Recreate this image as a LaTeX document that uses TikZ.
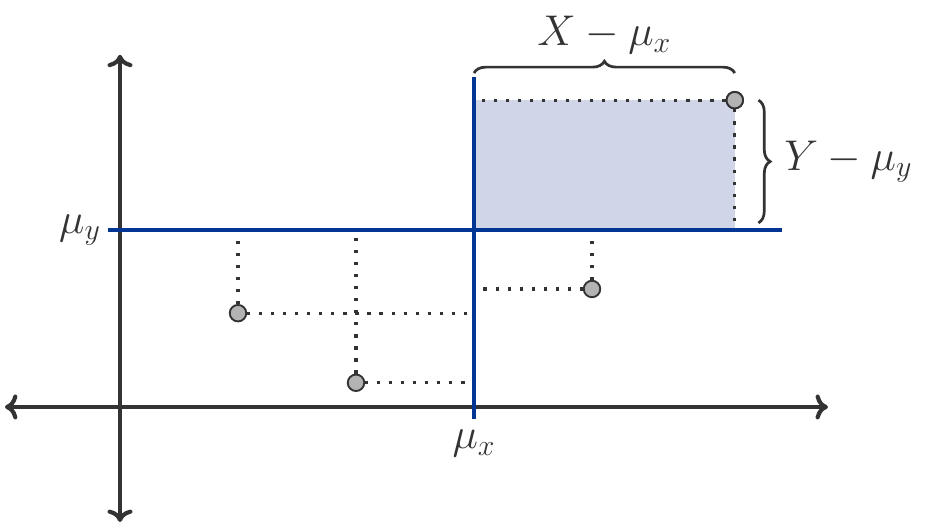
\documentclass[tikz,border=0pt]{standalone}
\usetikzlibrary{arrows.meta,decorations.pathreplacing}
\usepackage{amsmath}
\usepackage{xcolor}

\definecolor{axisgray}{HTML}{333333}
\definecolor{meanblue}{HTML}{003594}
\definecolor{areafill}{HTML}{D0D5E8}
\definecolor{pointgray}{HTML}{B3B3B3}

\begin{document}
\begin{tikzpicture}[
    axis/.style={{To[length=6pt,width=12pt]}-{To[length=6pt,width=12pt]},line width=2pt,draw=axisgray},
    meanline/.style={line width=2.2pt,draw=meanblue},
    proj/.style={draw=axisgray,line width=1.5pt,dash pattern=on 1.5pt off 4.3pt},
    datapoint/.style={circle,draw=axisgray,fill=pointgray,line width=0.9pt,minimum size=0.28cm,inner sep=0pt},
    bracket/.style={draw=axisgray,line width=1.3pt,decorate,decoration={brace,amplitude=0.2cm}},
    lbl/.style={font=\fontsize{20}{24}\selectfont,text=axisgray}
]
\useasboundingbox (-2.034,-2.051) rectangle (13.678,6.898);

% Means
\coordinate (M) at (6,3);

% Shaded area
\fill[areafill] (6,3) rectangle (10.42,5.2);

% Axes
\coordinate (xl) at (-1.95,0);
\coordinate (xr) at (12,0);
\coordinate (yb) at (0,-1.95);
\coordinate (yt) at (0,5.97);
\draw[axis] (xl) -- (xr);
\draw[axis] (yb) -- (yt);

% Data points
\node[datapoint] (pA) at (2,1.59) {};
\node[datapoint] (pB) at (4,0.41) {};
\node[datapoint] (pC) at (8,2.0) {};
\node[datapoint] (pD) at (10.42,5.2) {};

% Projections
\draw[proj] (pA) -- (pA |- M);
\draw[proj] (pA) -- (pA -| M);
\draw[proj] (pB) -- (pB |- M);
\draw[proj] (pB) -- (pB -| M);
\draw[proj] (pC) -- (pC |- M);
\draw[proj] (pC) -- (pC -| M);
\draw[proj] (pD) -- (pD |- M);
\draw[proj] (pD) -- (pD -| M);

% Mean lines
\coordinate (myl) at (-0.2,3);
\coordinate (myr) at (11.22,3);
\coordinate (mxb) at (6,-0.2);
\coordinate (mxt) at (6,5.6);
\draw[meanline] (myl) -- (myr);
\draw[meanline] (mxb) -- (mxt);
\node[datapoint] at (pD) {};

\node[lbl,anchor=east] (muy) at (myl) {$\mu_y$};
\node[lbl,below=2pt] (mux) at (mxb) {$\mu_x$};

% Braces
\coordinate (bxl) at (6,5.66);
\coordinate (bxr) at (10.42,5.66);
\coordinate (byt) at (10.82,5.2);
\coordinate (byb) at (10.82,3.12);
\draw[bracket] (bxl) -- node[lbl,above=0.18cm] (dx) {$X-\mu_x$} (bxr);
\draw[bracket] (byt) -- node[lbl,right=0.3cm] (dy) {$Y-\mu_y$} (byb);

\end{tikzpicture}
\end{document}
